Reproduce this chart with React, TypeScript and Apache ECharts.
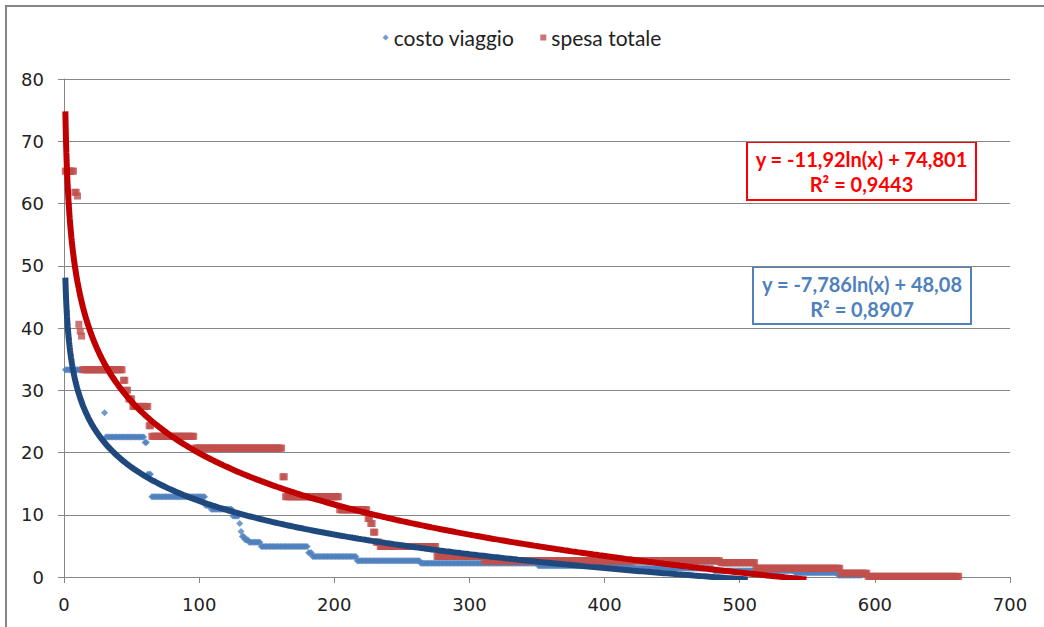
import React, { useEffect, useRef } from "react";
import * as echarts from "echarts";

// Ranked values: each run is [first rank, last rank, value]
const costoViaggioRuns: [number, number, number][] = [
  [1, 29, 33.3],
  [30, 30, 26.4],
  [31, 59, 22.5],
  [60, 61, 21.6],
  [62, 64, 16.5],
  [65, 104, 12.9],
  [105, 108, 11.5],
  [109, 124, 10.9],
  [125, 129, 9.8],
  [130, 130, 8.6],
  [131, 131, 7.3],
  [132, 133, 6.5],
  [134, 136, 6.0],
  [137, 145, 5.6],
  [146, 180, 4.9],
  [181, 183, 3.9],
  [184, 216, 3.3],
  [217, 263, 2.6],
  [264, 350, 2.2],
  [351, 420, 1.8],
  [421, 480, 1.4],
  [481, 540, 1.0],
  [541, 572, 0.7],
  [573, 590, 0.3],
];

const spesaTotaleRuns: [number, number, number][] = [
  [1, 7, 65.2],
  [8, 9, 61.8],
  [10, 10, 61.2],
  [11, 11, 40.6],
  [12, 12, 39.5],
  [13, 13, 38.7],
  [14, 43, 33.3],
  [44, 45, 31.6],
  [46, 47, 30.0],
  [48, 50, 28.6],
  [51, 62, 27.4],
  [63, 64, 24.3],
  [65, 96, 22.6],
  [97, 161, 20.7],
  [162, 163, 16.1],
  [164, 203, 12.9],
  [204, 224, 10.8],
  [225, 226, 9.4],
  [227, 228, 8.6],
  [229, 230, 7.2],
  [231, 233, 5.6],
  [234, 275, 4.9],
  [276, 310, 3.3],
  [311, 485, 2.6],
  [486, 511, 2.3],
  [512, 574, 1.4],
  [575, 594, 0.6],
  [595, 662, 0.1],
];

// Logarithmic trend lines: y = a ln(x) + b
const costoViaggioFit = { a: -7.786, b: 48.08, r2: "0,8907" };
const spesaTotaleFit = { a: -11.92, b: 74.801, r2: "0,9443" };

const costoEquation = ["y = -7,786ln(x) + 48,08", "R² = " + costoViaggioFit.r2];
const spesaEquation = ["y = -11,92ln(x) + 74,801", "R² = " + spesaTotaleFit.r2];

const xTicks = { min: 0, max: 700, interval: 100 };
const yTicks = { min: 0, max: 80, interval: 10 };

function expandRuns(runs: [number, number, number][]): number[][] {
  const pts: number[][] = [];
  for (const [from, to, v] of runs) {
    for (let r = from; r <= to; r++) pts.push([r, v]);
  }
  return pts;
}

// The curve runs a little past zero; the grid clips it at the x axis.
function trendPoints(fit: { a: number; b: number }): number[][] {
  const end = Math.exp(-(fit.b + 0.4) / fit.a);
  const pts: number[][] = [];
  let x = 1;
  while (x < end) {
    pts.push([x, fit.a * Math.log(x) + fit.b]);
    x += x < 10 ? 0.25 : 2;
  }
  pts.push([end, fit.a * Math.log(end) + fit.b]);
  return pts;
}

const GRAY = "#868686";

export default function App() {
  const ref = useRef<HTMLDivElement>(null);

  useEffect(() => {
    if (!ref.current) return;
    const chart = echarts.init(ref.current, null, { renderer: "svg" });

    const eqBox = (
      lines: string[],
      color: string,
      x: number,
      y: number,
      w: number,
      h: number
    ) => ({
      type: "group",
      z: 100,
      children: [
        {
          type: "rect",
          shape: { x, y, width: w, height: h },
          style: { fill: "#ffffff", stroke: color, lineWidth: 2 },
        },
        {
          type: "text",
          x: x + w / 2,
          y: y + h * 0.3,
          style: {
            text: lines[0],
            fill: color,
            font: "bold 20px Lato",
            align: "center",
            verticalAlign: "middle",
          },
        },
        {
          type: "text",
          x: x + w / 2,
          y: y + h * 0.73,
          style: {
            text: lines[1],
            fill: color,
            font: "bold 20px Lato",
            align: "center",
            verticalAlign: "middle",
          },
        },
      ],
    });

    chart.setOption({
      animation: false,
      backgroundColor: "#ffffff",
      grid: { left: 64, right: 34, top: 79, bottom: 50 },
      legend: {
        top: 22,
        left: "center",
        data: [
          { name: "costo viaggio", icon: "diamond" },
          { name: "spesa totale", icon: "rect" },
        ],
        itemWidth: 6,
        itemHeight: 6,
        itemGap: 26,
        textStyle: { fontFamily: "Lato", fontSize: 21, color: "#222" },
      },
      xAxis: {
        type: "value",
        min: xTicks.min,
        max: xTicks.max,
        interval: xTicks.interval,
        axisLine: { show: true, lineStyle: { color: GRAY, width: 1 } },
        axisTick: { show: true, length: 6, lineStyle: { color: GRAY } },
        splitLine: { show: false },
        axisLabel: {
          margin: 18,
          fontFamily: "DejaVu Sans",
          fontSize: 18,
          color: "#222",
        },
      },
      yAxis: {
        type: "value",
        min: yTicks.min,
        max: yTicks.max,
        interval: yTicks.interval,
        axisLine: { show: true, lineStyle: { color: GRAY, width: 1 } },
        axisTick: { show: true, length: 6, lineStyle: { color: GRAY } },
        splitLine: { show: true, lineStyle: { color: GRAY, width: 1 } },
        axisLabel: {
          margin: 20,
          fontFamily: "DejaVu Sans",
          fontSize: 18,
          color: "#222",
        },
      },
      series: [
        {
          name: "costo viaggio",
          type: "scatter",
          symbol: "diamond",
          symbolSize: 7,
          itemStyle: { color: "#4F81BD" },
          data: expandRuns(costoViaggioRuns),
          z: 2,
        },
        {
          name: "spesa totale",
          type: "scatter",
          symbol: "rect",
          symbolSize: 7,
          itemStyle: { color: "#C0504D" },
          data: expandRuns(spesaTotaleRuns),
          z: 3,
        },
        {
          name: "Log. (costo viaggio)",
          type: "line",
          showSymbol: false,
          symbol: "none",
          clip: true,
          lineStyle: { color: "#1F497D", width: 6 },
          data: trendPoints(costoViaggioFit),
          z: 4,
        },
        {
          name: "Log. (spesa totale)",
          type: "line",
          showSymbol: false,
          symbol: "none",
          clip: true,
          lineStyle: { color: "#C00000", width: 6 },
          data: trendPoints(spesaTotaleFit),
          z: 5,
        },
      ],
      graphic: [
        {
          type: "rect",
          shape: { x: 6, y: 6, width: 1100, height: 700 },
          style: { fill: "none", stroke: GRAY, lineWidth: 2 },
          silent: true,
        },
        eqBox(spesaEquation, "#FF0000", 747, 142, 229, 58),
        eqBox(costoEquation, "#4F81BD", 753, 267, 218, 57),
      ],
    });

    return () => chart.dispose();
  }, []);

  return (
    <div
      ref={ref}
      style={{ position: "absolute", left: 0, top: 0, width: 1044, height: 627 }}
    />
  );
}
